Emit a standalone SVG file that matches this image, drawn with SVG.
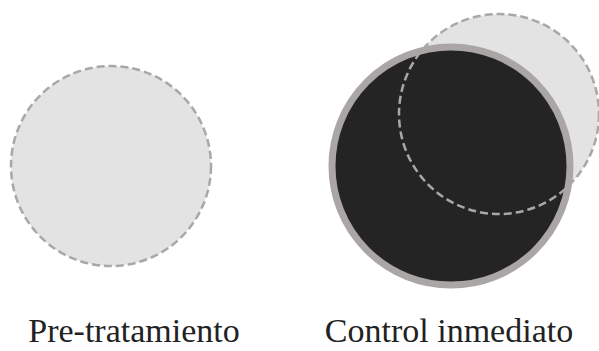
<svg xmlns="http://www.w3.org/2000/svg" width="599" height="351" viewBox="0 0 599 351">
<style>
.ghost{fill:#e3e3e3}
.dash{fill:none;stroke:#aaa7a7;stroke-width:2.5;stroke-dasharray:8 4}
.lbl{font-family:"Liberation Serif","DejaVu Serif",serif;font-size:34px;fill:#222;text-anchor:middle}
</style>
<rect width="599" height="351" fill="#fff"/>
<g id="pre">
<circle cx="111" cy="166" r="100" class="ghost"/>
<circle cx="111" cy="166" r="100" class="dash"/>
<text x="134" y="342" class="lbl">Pre-tratamiento</text>
</g>
<g id="control">
<circle cx="499" cy="114" r="100" class="ghost"/>
<circle cx="451" cy="166" r="119" fill="#242424" stroke="#aaa6a5" stroke-width="7"/>
<circle cx="499" cy="114" r="100" class="dash" stroke="#b5b2b2"/>
<text x="449" y="342" class="lbl">Control inmediato</text>
</g>
</svg>
